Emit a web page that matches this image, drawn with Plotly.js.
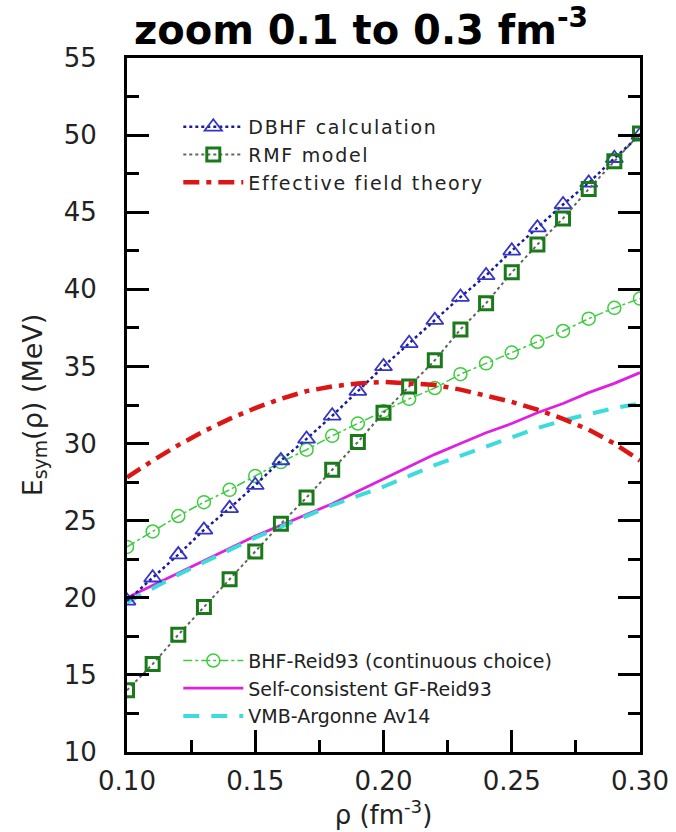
<!DOCTYPE html>
<html>
<head>
<meta charset="utf-8">
<script src="https://cdn.plot.ly/plotly-3.0.1.min.js"></script>
<style>html,body{margin:0;padding:0;background:#fff;}#chart{width:676px;height:832px;}
.legendtext{letter-spacing:1.7px;}</style>
</head>
<body>
<div id="chart"></div>
<script>
// density grid (fm^-3)
var rho = [0.10,0.11,0.12,0.13,0.14,0.15,0.16,0.17,0.18,0.19,0.20,0.21,0.22,0.23,0.24,0.25,0.26,0.27,0.28,0.29,0.30];
// series values (MeV)
var dbhf = [19.8,21.3,22.8,24.4,25.8,27.3,28.9,30.3,31.8,33.4,35.0,36.5,38.0,39.5,40.9,42.5,44.0,45.5,46.9,48.5,50.0];
var rmf  = [14.0,15.7,17.6,19.4,21.2,23.0,24.8,26.5,28.3,30.1,32.0,33.7,35.4,37.4,39.1,41.1,42.9,44.6,46.5,48.3,50.1];
var eft  = [27.8,28.9,29.9,30.8,31.6,32.3,32.9,33.4,33.7,33.9,34.0,33.9,33.8,33.5,33.1,32.7,32.2,31.6,30.9,30.0,28.9];
var bhf  = [23.3,24.3,25.3,26.2,27.0,27.9,28.8,29.6,30.5,31.3,32.1,32.9,33.6,34.5,35.2,35.9,36.6,37.3,38.1,38.8,39.4];
var gf   = [20.0,20.8,21.6,22.4,23.2,24.0,24.7,25.4,26.1,26.9,27.7,28.5,29.3,30.0,30.7,31.3,32.0,32.6,33.3,33.9,34.6];
var vmb  = [19.7,20.6,21.5,22.3,23.1,23.9,24.6,25.3,26.0,26.6,27.2,27.9,28.6,29.2,29.8,30.4,31.0,31.5,31.9,32.3,32.6];
var names = ["DBHF calculation","RMF model","Effective field theory","BHF-Reid93 (continuous choice)","Self-consistent GF-Reid93","VMB-Argonne Av14"];
var xTicks = [0.10,0.15,0.20,0.25,0.30];
var xTickText = ["0.10","0.15","0.20","0.25","0.30"];
var yTicks = [10,15,20,25,30,35,40,45,50,55];

var traces = [
  {x: rho, y: bhf, name: names[3], mode: 'lines+markers', legend: 'legend2',
   line: {color: '#3dcc3d', width: 1.5, dash: 'dashdot'},
   marker: {symbol: 'circle-open', size: 13, color: '#3dcc3d', line: {width: 1.5}}},
  {x: rho, y: gf, name: names[4], mode: 'lines', legend: 'legend2',
   line: {color: '#e020e0', width: 2.8}},
  {x: rho, y: vmb, name: names[5], mode: 'lines', legend: 'legend2',
   line: {color: '#3ddcdc', width: 4, dash: '16px,12px'}},
  {x: rho, y: dbhf, name: names[0], mode: 'lines+markers', legend: 'legend',
   line: {color: '#1a1a9a', width: 2.5, dash: 'dot'},
   marker: {symbol: 'triangle-up-open', size: 15, color: '#3535c8', line: {width: 1.8}}},
  {x: rho, y: rmf, name: names[1], mode: 'lines+markers', legend: 'legend',
   line: {color: '#5a6a5a', width: 2, dash: 'dot'},
   marker: {symbol: 'square-open', size: 13, color: '#1a7a1a', line: {width: 3}}},
  {x: rho, y: eft, name: names[2], mode: 'lines', legend: 'legend',
   line: {color: '#dd1515', width: 4.5, dash: '16px,7px,5px,7px'}}
];

var tickFont = {family: 'DejaVu Sans', size: 26, color: '#222'};
var legendFont = {family: 'DejaVu Sans', size: 19, color: '#222'};
var layout = {
  width: 676, height: 832,
  paper_bgcolor: '#fff', plot_bgcolor: '#fff',
  margin: {l: 127, r: 36, t: 58, b: 80},
  title: {text: '<b>zoom 0.1 to 0.3 fm<sup>-3</sup></b>', x: 0.534, xref: 'container', xanchor: 'center',
          y: 0.964, yref: 'container', yanchor: 'middle',
          font: {family: 'DejaVu Sans', size: 40, color: '#000'}},
  xaxis: {range: [0.10, 0.30], tickvals: xTicks, ticktext: xTickText,
          ticks: 'inside', ticklen: 22, tickwidth: 3, tickcolor: '#000',
          minor: {dtick: 0.025, tick0: 0.1, ticks: 'inside', ticklen: 12, tickwidth: 3, tickcolor: '#000'},
          showline: true, linewidth: 3, linecolor: '#000', mirror: true,
          showgrid: false, zeroline: false, tickfont: tickFont, ticklabelstandoff: 4,
          title: {text: 'ρ (fm<sup>-3</sup>)', font: {family: 'DejaVu Sans', size: 26, color: '#222'}, standoff: 4}},
  yaxis: {range: [10, 55], tickvals: yTicks,
          ticks: 'inside', ticklen: 22, tickwidth: 3, tickcolor: '#000',
          minor: {dtick: 2.5, tick0: 10, ticks: 'inside', ticklen: 12, tickwidth: 3, tickcolor: '#000'},
          showline: true, linewidth: 3, linecolor: '#000', mirror: 'ticks',
          showgrid: false, zeroline: false, tickfont: tickFont, ticklabelstandoff: 22,
          title: {text: 'E<sub>sym</sub>(ρ) (MeV)', font: {family: 'DejaVu Sans', size: 27, color: '#222'}, standoff: 14}},
  showlegend: true,
  legend: {x: 0.10, y: 0.928, xanchor: 'left', yanchor: 'top', bgcolor: 'rgba(0,0,0,0)',
           font: legendFont, itemwidth: 60, tracegroupgap: 0, traceorder: 'normal'},
  legend2: {x: 0.10, y: 0.159, xanchor: 'left', yanchor: 'top', bgcolor: 'rgba(0,0,0,0)',
           font: legendFont, itemwidth: 60, tracegroupgap: 0, traceorder: 'normal'}
};

Plotly.newPlot('chart', traces, layout, {displayModeBar: false, responsive: false});
</script>
</body>
</html>
